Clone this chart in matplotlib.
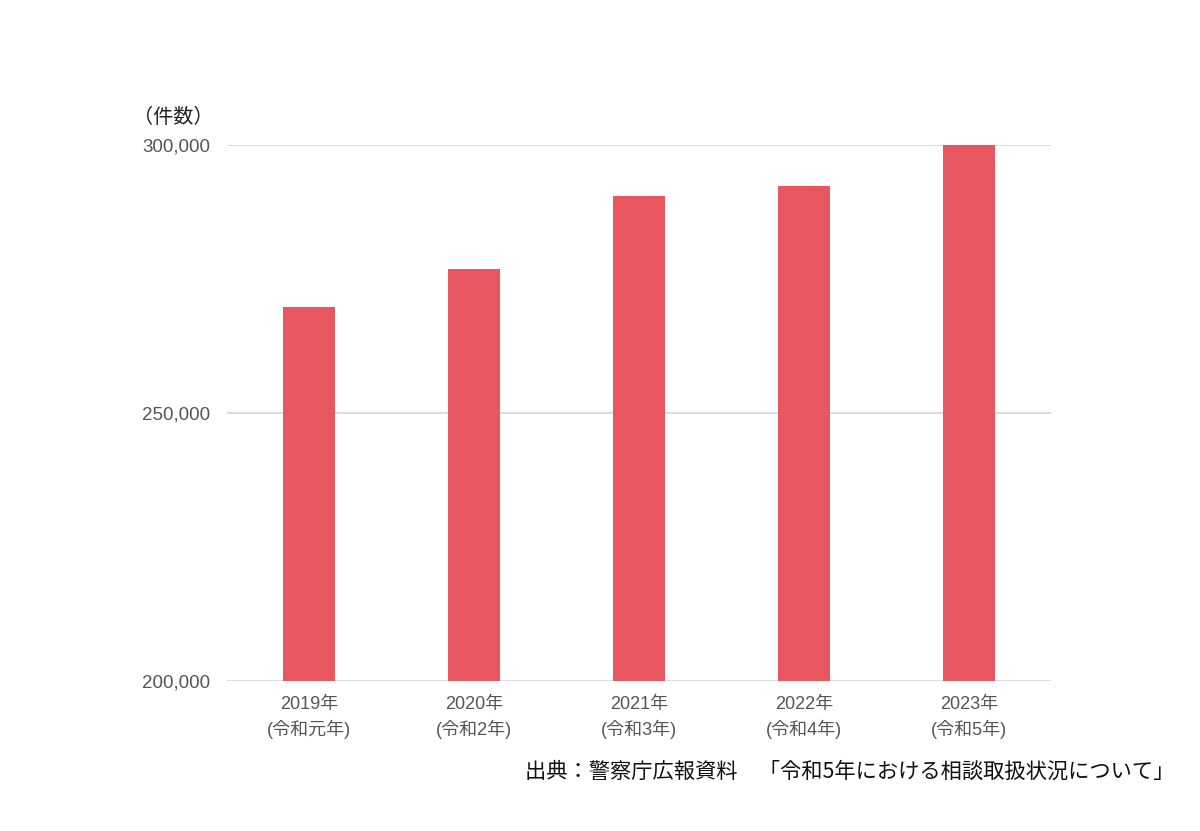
import matplotlib
matplotlib.use("Agg")
import matplotlib.pyplot as plt

plt.rcParams['font.family'] = ['Liberation Sans', 'Noto Sans CJK JP', 'DejaVu Sans']

years = ["2019年", "2020年", "2021年", "2022年", "2023年"]
eras = ["(令和元年)", "(令和2年)", "(令和3年)", "(令和4年)", "(令和5年)"]
counts = [269700, 276800, 290500, 292300, 300000]
y_ticks = [200000, 250000, 300000]

fig = plt.figure(figsize=(12, 8.31), dpi=100)
ax = fig.add_axes([0.189, 0.1805, 0.687, 0.6455])

x = list(range(len(years)))
ax.bar(x, counts, width=0.315, color="#E8565F", zorder=3)

ax.set_xlim(-0.5, len(years) - 0.5)
ax.set_ylim(200000, 300000)
ax.set_yticks(y_ticks)
ax.set_yticklabels([f"{v:,}" for v in y_ticks])
ax.set_xticks(x)
ax.set_xticklabels([f"{a}\n{b}" for a, b in zip(years, eras)], linespacing=1.45)

ax.grid(axis="y", color="#d6d6d6", linewidth=1.2, zorder=0)
ax.set_axisbelow(True)
for s in ax.spines.values():
    s.set_visible(False)
ax.tick_params(axis="both", length=0, labelsize=13.5, colors="#555555")
ax.tick_params(axis="x", labelsize=13, pad=11)
ax.tick_params(axis="y", pad=12)

fig.text(0.111, 0.859, "（件数）", fontsize=14.5, color="#222222",
         family=['Noto Sans CJK JP'], ha="left", va="center")
fig.text(0.979, 0.071, "出典：警察庁広報資料　「令和5年における相談取扱状況について」",
         fontsize=15.3, color="#111111", family=['Noto Sans CJK JP'],
         ha="right", va="center")

fig.savefig("out.png", dpi=100)
